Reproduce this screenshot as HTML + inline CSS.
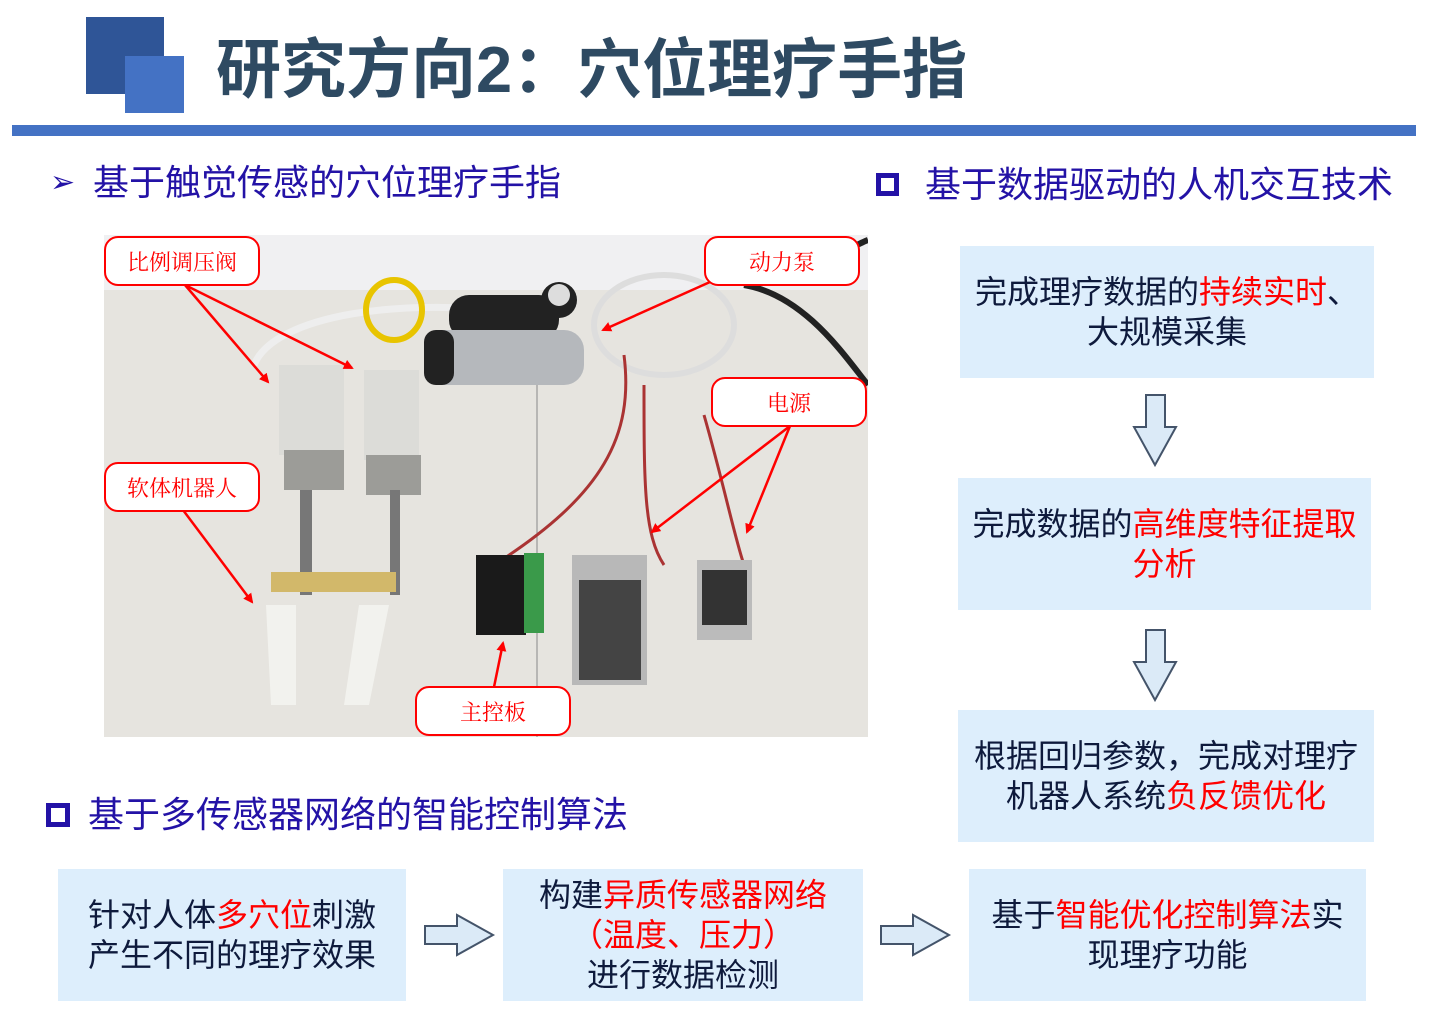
<!DOCTYPE html>
<html><head><meta charset="utf-8"><style>
*{margin:0;padding:0;box-sizing:border-box}
body{width:1431px;height:1016px;background:#fff;position:relative;overflow:hidden;font-family:"Liberation Sans","Noto Sans CJK SC",sans-serif}
.a{position:absolute}
.h{color:#2312a6;font-size:36px;white-space:nowrap;line-height:1}
.box{position:absolute;background:#ddeefc;color:#0e1a3c;font-size:32px;line-height:40px;text-align:center;display:flex;align-items:center;justify-content:center}
.r{color:#ff0000}
.lab{position:absolute;background:#fff;border:2px solid #f00;border-radius:14px;color:#f00;font-family:"Noto Serif CJK SC",serif;font-size:22px;display:flex;align-items:center;justify-content:center}
</style></head><body>
<div class="a" style="left:86px;top:17px;width:78px;height:77px;background:#2f5597"></div>
<div class="a" style="left:125px;top:56px;width:59px;height:57px;background:#4472c4"></div>
<div class="a" style="left:216px;top:30px;font-size:65px;font-weight:bold;color:#2e4a62;white-space:nowrap;line-height:80px">研究方向2：穴位理疗手指</div>
<div class="a" style="left:12px;top:125px;width:1404px;height:11px;background:#4472c4"></div>

<div class="a h" style="left:50px;top:168px;font-size:30px">➢</div>
<div class="a h" style="left:93px;top:165px">基于触觉传感的穴位理疗手指</div>
<div class="a" style="left:876px;top:173px;width:23px;height:23px;border:5px solid #2312a6"></div>
<div class="a h" style="left:925px;top:167px">基于数据驱动的人机交互技术</div>
<div class="a" style="left:46px;top:803px;width:24px;height:24px;border:5px solid #2312a6"></div>
<div class="a h" style="left:88px;top:797px">基于多传感器网络的智能控制算法</div>

<svg class="a" style="left:104px;top:235px" width="764" height="502" viewBox="0 0 764 502">
<rect width="764" height="502" fill="#e6e4df"/>
<rect width="764" height="55" fill="#f0f0f2"/>
<line x1="433" y1="120" x2="433" y2="502" stroke="#888" stroke-width="1"/>
<path d="M150 130 C170 80 300 60 430 80" stroke="#eee" stroke-width="7" fill="none"/>
<ellipse cx="290" cy="75" rx="28" ry="30" stroke="#e8c400" stroke-width="6" fill="none"/>
<rect x="345" y="60" width="110" height="45" rx="20" fill="#222"/>
<rect x="320" y="95" width="160" height="55" rx="20" fill="#b5b8bc"/>
<rect x="320" y="95" width="30" height="55" rx="12" fill="#222"/>
<circle cx="455" cy="65" r="18" fill="#222"/><circle cx="455" cy="60" r="11" fill="#ddd"/>
<ellipse cx="560" cy="90" rx="70" ry="50" stroke="#ddd" stroke-width="6" fill="none"/>
<path d="M640 50 C700 60 740 120 764 150 M680 40 C720 30 750 10 764 5" stroke="#222" stroke-width="6" fill="none"/>
<path d="M520 120 C530 200 500 260 390 330 M540 150 C540 250 540 300 560 330 M600 180 C620 250 630 300 640 330" stroke="#a33" stroke-width="3" fill="none"/>
<rect x="175" y="130" width="65" height="90" fill="#dcdcd8"/><rect x="180" y="215" width="60" height="40" fill="#9c9c98"/>
<rect x="260" y="135" width="55" height="90" fill="#dcdcd8"/><rect x="262" y="220" width="55" height="40" fill="#9c9c98"/>
<rect x="196" y="255" width="12" height="105" fill="#777"/><rect x="286" y="255" width="10" height="105" fill="#777"/>
<rect x="167" y="337" width="125" height="20" fill="#d2b86a"/>
<path d="M162 370 h30 v100 h-25z M255 370 h30 l-20 100 h-25z" fill="#f2f2ee"/>
<rect x="372" y="320" width="50" height="80" fill="#1a1a1a"/><rect x="420" y="318" width="20" height="80" fill="#3a9a4a"/>
<rect x="468" y="320" width="75" height="130" fill="#b8b8b8"/><rect x="475" y="345" width="62" height="100" fill="#444"/>
<rect x="593" y="325" width="55" height="80" fill="#bbb"/><rect x="598" y="335" width="45" height="55" fill="#333"/>
</svg>
<svg class="a" style="left:0;top:0" width="1431" height="1016">
<defs><marker id="m" markerWidth="10" markerHeight="10" refX="8" refY="5" orient="auto" markerUnits="userSpaceOnUse"><path d="M0 0 L10 5 L0 10z" fill="#f00"/></marker></defs>
<g stroke="#f00" stroke-width="2.5" fill="none" marker-end="url(#m)">
<line x1="185" y1="285" x2="268" y2="382"/>
<line x1="185" y1="285" x2="352" y2="368"/>
<line x1="183" y1="510" x2="252" y2="602"/>
<line x1="710" y1="282" x2="603" y2="330"/>
<line x1="790" y1="426" x2="652" y2="532"/>
<line x1="790" y1="426" x2="747" y2="532"/>
<line x1="494" y1="687" x2="503" y2="643"/>
</g>
<g fill="#dbeaf7" stroke="#44546a" stroke-width="2">
<path d="M1146 395 h19 v32 h11 l-21 38 l-21 -38 h12z"/>
<path d="M1146 630 h19 v32 h11 l-21 38 l-21 -38 h12z"/>
<path d="M425 926 h32 v-11 l36 20 l-36 20 v-11 h-32z"/>
<path d="M881 926 h32 v-11 l36 20 l-36 20 v-11 h-32z"/>
</g>
</svg>
<div class="lab" style="left:104px;top:236px;width:156px;height:50px">比例调压阀</div>
<div class="lab" style="left:704px;top:236px;width:156px;height:50px">动力泵</div>
<div class="lab" style="left:711px;top:377px;width:156px;height:50px">电源</div>
<div class="lab" style="left:104px;top:462px;width:156px;height:50px">软体机器人</div>
<div class="lab" style="left:415px;top:686px;width:156px;height:50px">主控板</div>

<div class="box" style="left:960px;top:246px;width:414px;height:132px"><div>完成理疗数据的<span class="r">持续实时</span>、<br>大规模采集</div></div>
<div class="box" style="left:958px;top:478px;width:413px;height:132px"><div>完成数据的<span class="r">高维度特征提取</span><br><span class="r">分析</span></div></div>
<div class="box" style="left:958px;top:710px;width:416px;height:132px"><div>根据回归参数，完成对理疗<br>机器人系统<span class="r">负反馈优化</span></div></div>
<div class="box" style="left:58px;top:869px;width:348px;height:132px"><div style="text-align:left">针对人体<span class="r">多穴位</span>刺激<br>产生不同的理疗效果</div></div>
<div class="box" style="left:503px;top:869px;width:360px;height:132px"><div>构建<span class="r">异质传感器网络</span><br><span class="r">（温度、压力）</span><br>进行数据检测</div></div>
<div class="box" style="left:969px;top:869px;width:397px;height:132px"><div>基于<span class="r">智能优化控制算法</span>实<br>现理疗功能</div></div>
</body></html>
